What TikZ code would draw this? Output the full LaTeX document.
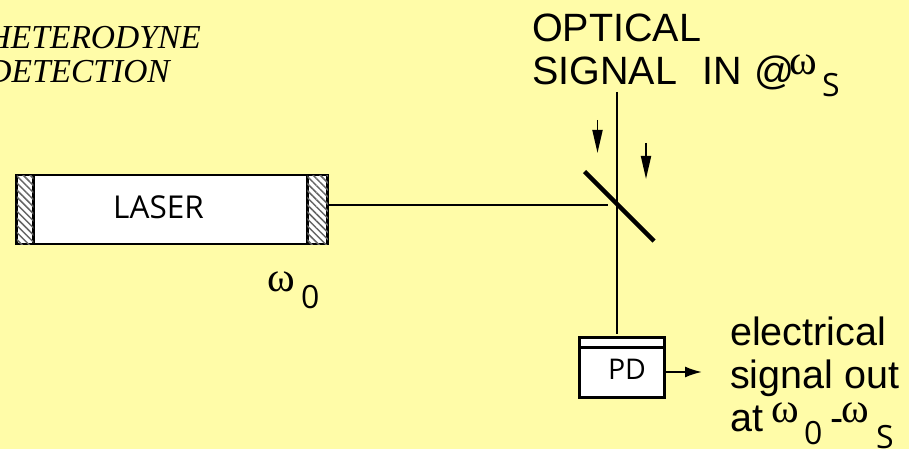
\documentclass[tikz,border=0pt]{standalone}
\usepackage{fontspec}
\setmainfont{Liberation Sans}
\newfontfamily\timesf{Liberation Serif}
\newfontfamily\labelf{Open Sans}
\usetikzlibrary{arrows.meta,patterns.meta}
\definecolor{bgyellow}{HTML}{FFFCA8}
\tikzset{
  txt/.style={anchor=base west,inner sep=0pt,font=\fontsize{39.5}{39.5}\selectfont},
  omegatxt/.style={anchor=base west,inner sep=0pt,font=\timesf\fontsize{42}{42}\selectfont},
  subtxt/.style={anchor=base west,inner sep=0pt,font=\labelf\fontsize{32}{32}\selectfont},
  headtxt/.style={anchor=base east,inner sep=0pt,font=\timesf\itshape\fontsize{33.5}{33.5}\selectfont},
  lasertxt/.style={anchor=center,inner sep=0pt,font=\labelf\fontsize{31.5}{31.5}\selectfont},
  pdtxt/.style={anchor=center,inner sep=0pt,font=\labelf\fontsize{28.5}{28.5}\selectfont},
  whitebox/.style={draw=black,line width=2.6pt,fill=white,inner sep=0pt,outer sep=0pt},
  hatchbox/.style={draw=black,line width=2.6pt,inner sep=0pt,outer sep=0pt,fill=white,
    postaction={pattern={Lines[angle=-45,distance=5pt,line width=1.5pt]},pattern color=black!60}},
  beam/.style={line width=2.2pt,draw=black},
  mirrorline/.style={line width=4.5pt,draw=black},
  flowarrow/.style={line width=1.8pt,draw=black,-{Triangle[length=23pt,width=10pt]}},
  outarrow/.style={line width=2pt,draw=black,-{Latex[length=17pt,width=11pt]}}
}
\begin{document}
\begin{tikzpicture}[x=1pt,y=-1pt]
\useasboundingbox (0,0) rectangle (909,449);
\fill[bgyellow] (0,0) rectangle (909,449);
% laser
\node[whitebox,minimum width=275pt,minimum height=69pt] (laser) at (170,209.5) {};
\node[hatchbox,minimum width=16.5pt,minimum height=69pt] (mirrorL) at (25,209.5) {};
\node[hatchbox,minimum width=20.5pt,minimum height=69pt] (mirrorR) at (317.5,209.5) {};
\node[lasertxt] (lasertxt) at (158.5,207) {LASER};
% points
\coordinate (bsEnd) at (608,205);
\coordinate (inTop) at (617,92);
\coordinate (bsA) at (584.5,171.5);
\coordinate (bsB) at (654,241);
\coordinate (a1s) at (597.5,120);
\coordinate (a1e) at (597.5,153);
\coordinate (a2s) at (646,143);
\coordinate (a2e) at (646,179);
\coordinate (pdOut) at (702,372);
\coordinate (pdA) at (579,347.5);
\coordinate (pdB) at (665,347.5);
\coordinate (pdIn) at (617,334);
% photodiode
\node[whitebox,minimum width=85pt,minimum height=60pt] (pd) at (622,367.5) {};
\node[pdtxt] (pdtxt) at (627,369.5) {PD};
% beams
\draw[beam] (mirrorR.east |- bsEnd) -- (bsEnd);
\draw[beam] (inTop) -- (pdIn);
\draw[mirrorline] (bsA) -- (bsB);
\draw[beam] (pdA) -- (pdB);
\draw[flowarrow] (a1s) -- (a1e);
\draw[flowarrow] (a2s) -- (a2e);
\draw[outarrow] (pd.east |- pdOut) ++(1,0) -- (pdOut);
% labels
\node[headtxt] (h1) at (201,49) {HETERODYNE};
\node[headtxt] (h2) at (170,83) {DETECTION};
\node[omegatxt] (w0) at (267,291) {ω};
\node[subtxt] (w0s) at (301,308) {0};
\node[txt] (o1) at (532,42) {OPTICAL};
\node[txt] (o2) at (532,85) {SIGNAL};
\node[txt] (o3) at (702,85) {IN};
\node[txt] (o4) at (754,85) {@};
\node[omegatxt] (ws) at (789,75) {ω};
\node[subtxt] (wss) at (822,97) {S};
\node[txt] (e1) at (730,345) {electrical};
\node[txt] (e2) at (730,388) {signal out};
\node[txt] (e3) at (730,431) {at};
\node[omegatxt] (e4) at (771,422) {ω};
\node[subtxt] (e5) at (804,444) {0};
\node[txt] (e6) at (830,431) {-};
\node[omegatxt] (e7) at (841,422) {ω};
\node[subtxt] (e8) at (876,448) {S};
\end{tikzpicture}
\end{document}
